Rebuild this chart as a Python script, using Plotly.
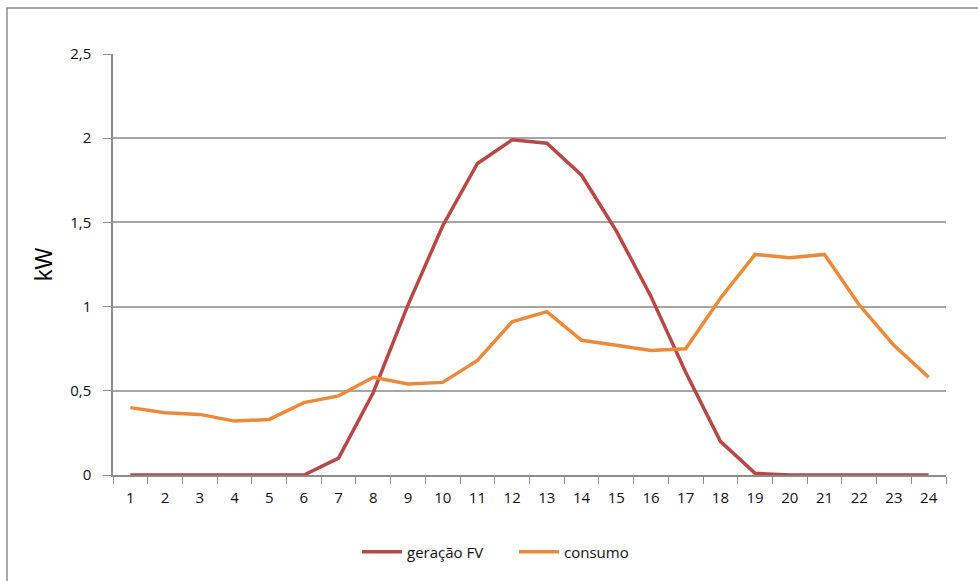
import plotly.graph_objects as go

# Hourly profile: PV generation vs. consumption (kW)
hours = [str(h) for h in range(1, 25)]
geracao_fv = [0, 0, 0, 0, 0, 0, 0.10, 0.49, 1.01, 1.48, 1.85, 1.99,
              1.97, 1.78, 1.45, 1.06, 0.61, 0.20, 0.01, 0, 0, 0, 0, 0]
consumo = [0.40, 0.37, 0.36, 0.32, 0.33, 0.43, 0.47, 0.58, 0.54, 0.55, 0.68, 0.91,
           0.97, 0.80, 0.77, 0.74, 0.75, 1.05, 1.31, 1.29, 1.31, 1.01, 0.77, 0.58]
y_ticks = [0, 0.5, 1, 1.5, 2, 2.5]

W, H = 978, 581
L, R, T, B = 113, 32, 54, 106
pw, ph = W - L - R, H - T - B

fig = go.Figure()
fig.add_trace(go.Scatter(x=hours, y=geracao_fv, mode="lines", name="geração FV",
                         line=dict(color="#B84845", width=3.5)))
fig.add_trace(go.Scatter(x=hours, y=consumo, mode="lines", name="consumo",
                         line=dict(color="#EC8A3A", width=3.5)))

font_family = "Open Sans, Liberation Sans, sans-serif"

fig.update_layout(
    width=W, height=H,
    margin=dict(l=L, r=R, t=T, b=B),
    paper_bgcolor="white", plot_bgcolor="white",
    separators=",.",
    font=dict(family=font_family, size=15, color="#111111"),
    showlegend=True,
    legend=dict(orientation="h", x=(357 - L) / pw, xanchor="left", y=-0.183, yanchor="middle",
                font=dict(size=15, color="#111111"), itemwidth=40,
                entrywidth=102, entrywidthmode="pixels"),
    xaxis=dict(type="category", range=[-0.5, 23.5], tickson="boundaries",
               ticks="outside", ticklen=7,
               tickcolor="#8c8c8c", showline=True, linecolor="#8c8c8c", linewidth=1.5,
               showgrid=False, tickfont=dict(size=15), ticklabelstandoff=8),
    yaxis=dict(range=[0, 2.5], tickvals=y_ticks, ticks="outside", ticklen=8,
               tickcolor="#8c8c8c", showline=True, linecolor="#8c8c8c", linewidth=1.5,
               showgrid=True, gridcolor="#a6a6a6", gridwidth=1.5, zeroline=False,
               tickfont=dict(size=15), ticklabelstandoff=9,
               title=dict(text="kW", font=dict(family="Liberation Sans, Arial, sans-serif",
                                               size=23, color="black"), standoff=11)),
)

# outer chart frame
fig.add_shape(type="rect", xref="paper", yref="paper",
              x0=(7 - L) / pw, x1=(W + 20 - L) / pw,
              y0=-(H + 20 - (H - B)) / ph, y1=(H - B - 8) / ph,
              line=dict(color="#8c8c8c", width=1.5), fillcolor="rgba(0,0,0,0)", layer="below")

fig.write_html("out.html")
